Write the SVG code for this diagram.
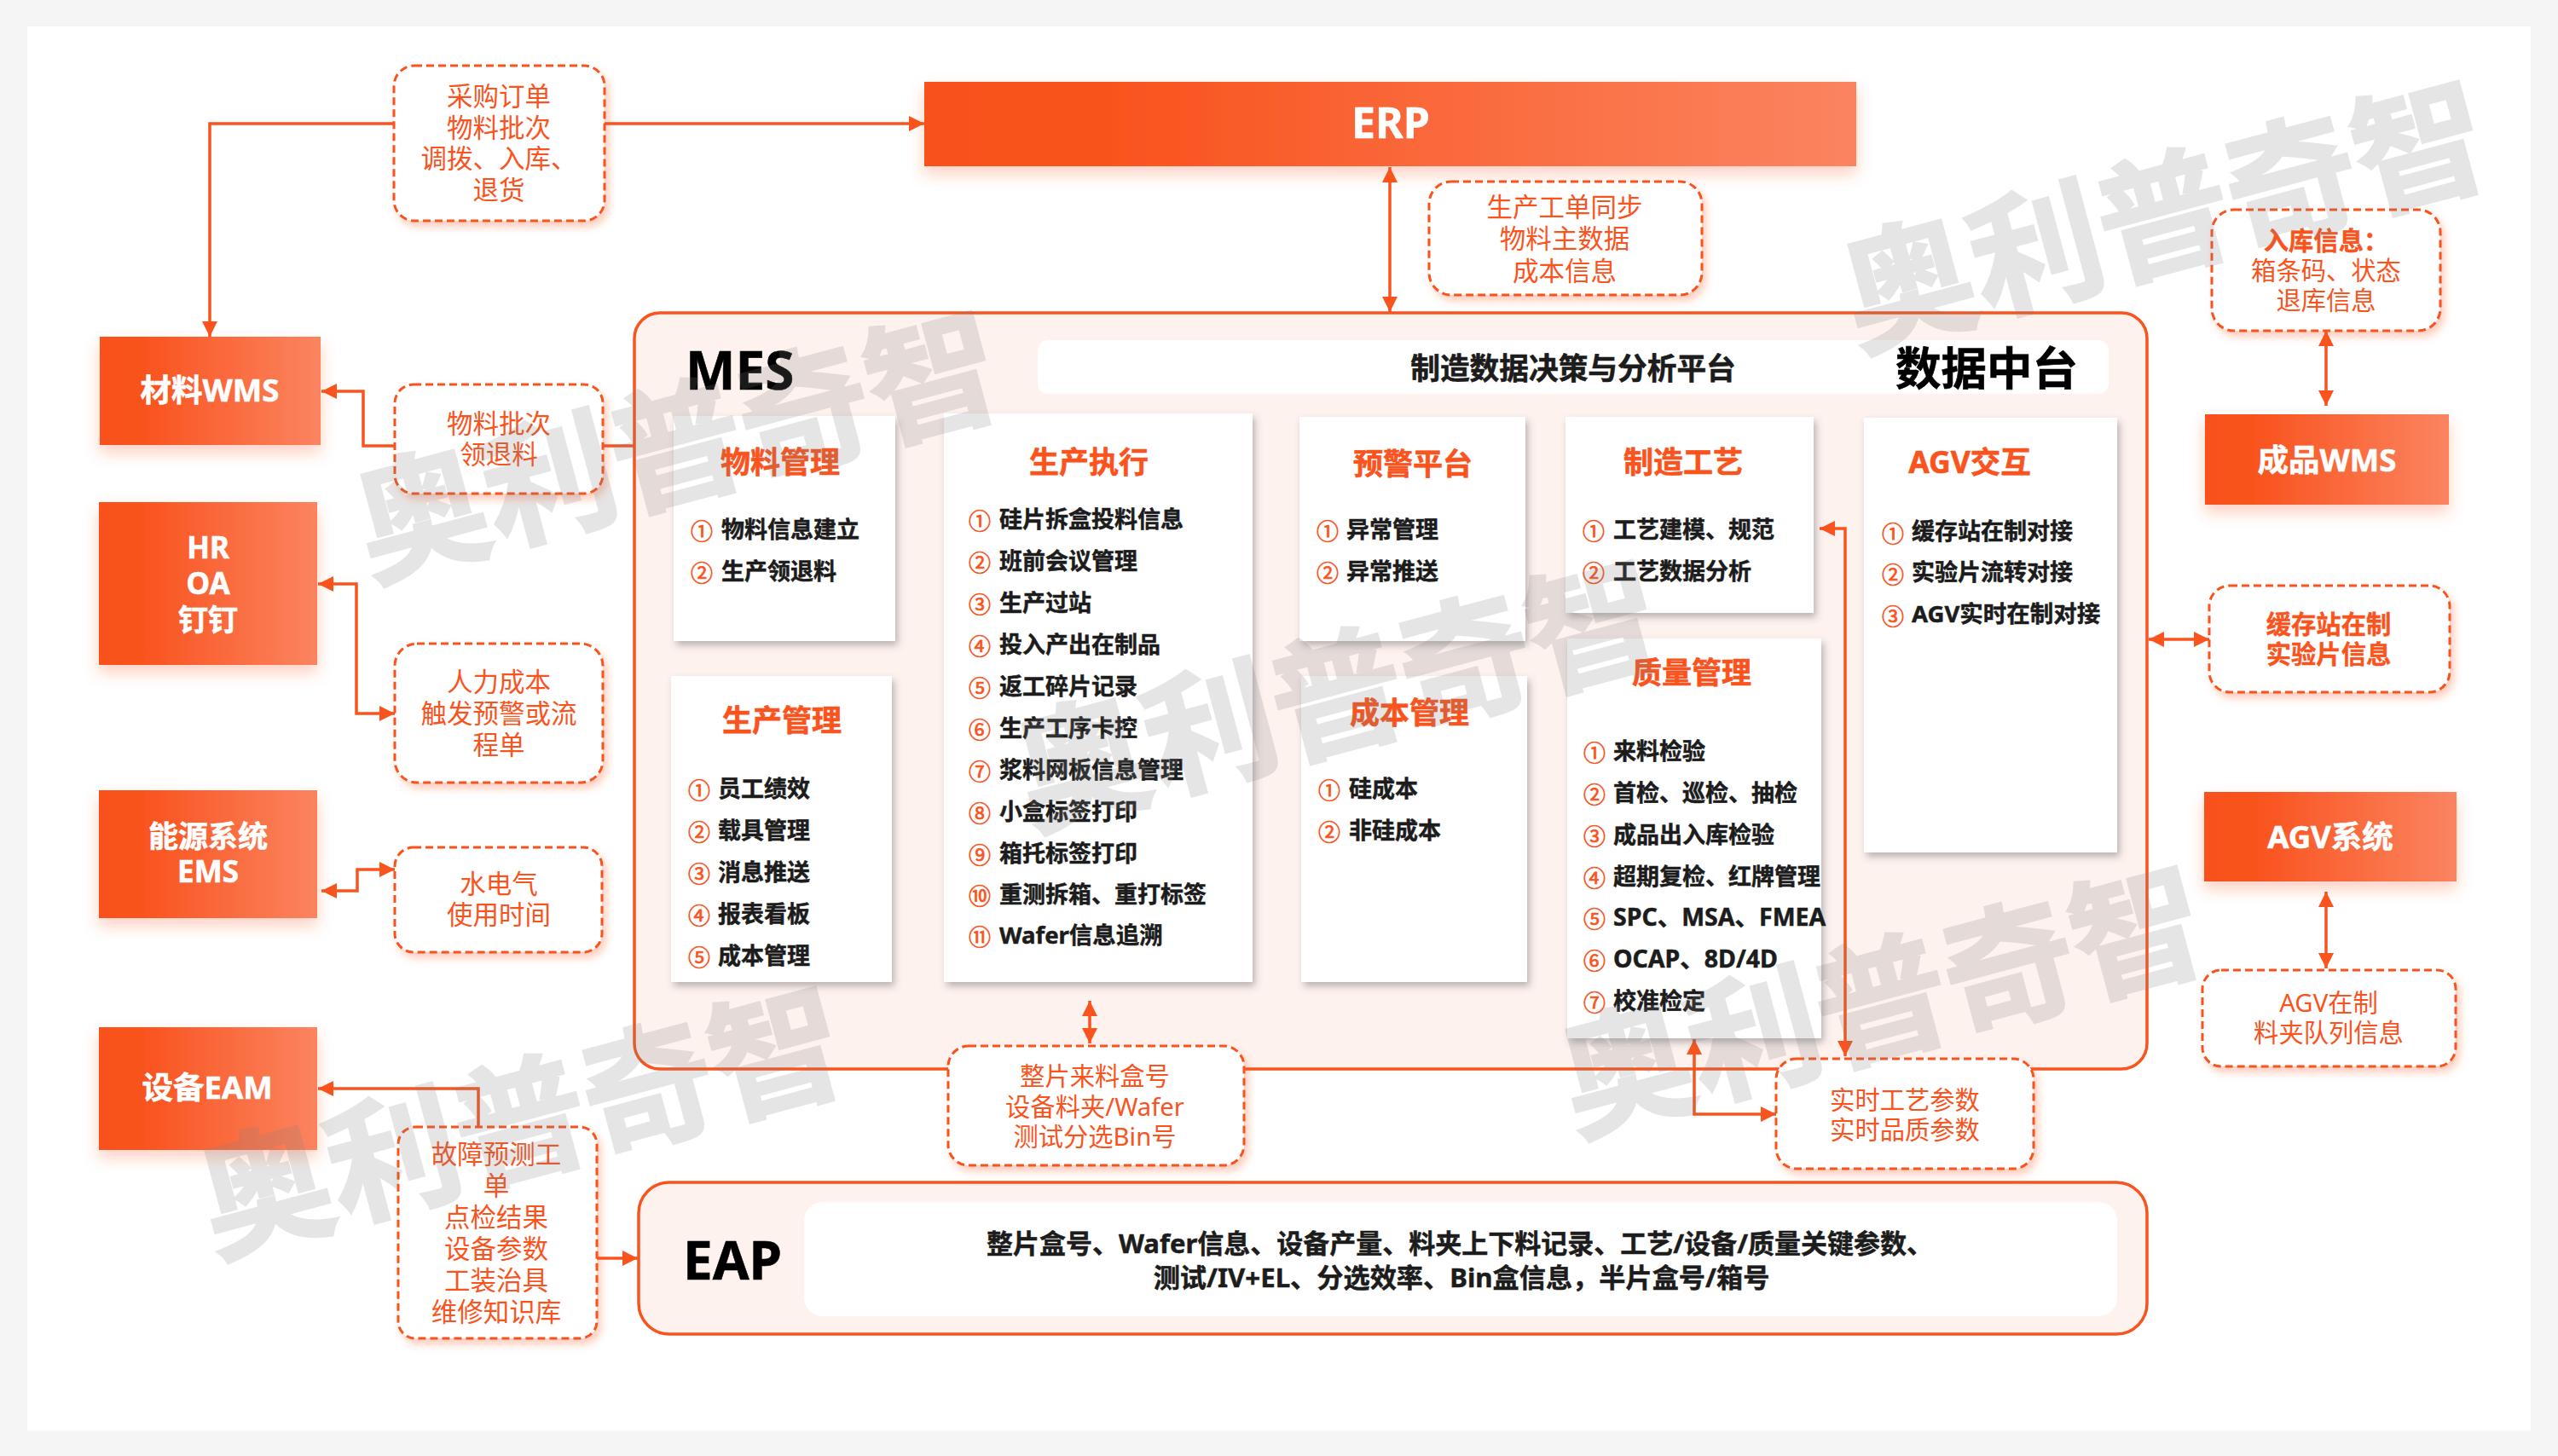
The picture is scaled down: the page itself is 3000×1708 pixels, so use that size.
<svg xmlns="http://www.w3.org/2000/svg" width="3000" height="1708" viewBox="0 0 3000 1708">
<style>
text{font-family:"Noto Sans","Noto Sans CJK SC",sans-serif;dominant-baseline:central}
.c{text-anchor:middle}
.sys{fill:url(#og);filter:url(#os)}
.st{fill:#fff;stroke:#fff;stroke-width:.6;font-weight:700;font-size:36.5px;text-anchor:middle}
.sm{font-size:35px}
.dash{fill:#fff;stroke:#f9531e;stroke-width:3;stroke-dasharray:9 5;filter:url(#ds)}
.lb{fill:#f9531e;font-size:30.5px;text-anchor:middle}
.ls{fill:#f9531e;font-size:29.3px;text-anchor:middle}
.lbb{fill:#f9531e;stroke:#f9531e;stroke-width:.4;font-size:29.3px;text-anchor:middle;font-weight:700}
.card{fill:#fff;filter:url(#cs)}
.ct{fill:#f9531e;stroke:#f9531e;stroke-width:.6;font-size:35px;font-weight:700;text-anchor:middle}
.it{fill:#1c1c1c;stroke:#1c1c1c;stroke-width:.5;font-size:27px;font-weight:700}
.itl{fill:#1c1c1c;stroke:#1c1c1c;stroke-width:.5;font-size:28.5px;font-weight:700}
.n{fill:#f9531e;stroke:#f9531e;stroke-width:.7;font-size:26px;text-anchor:middle}
.panel{fill:#fef2ef;stroke:#f9531e;stroke-width:3.5}
.bk{fill:#000;stroke:#000;stroke-width:.6;font-weight:700}
.line{fill:none;stroke:#f9531e;stroke-width:3.5}
.wm{fill:#808080;stroke:#808080;stroke-width:3;opacity:.2;font-size:155px;font-weight:700;text-anchor:middle;font-family:"Noto Sans CJK SC",sans-serif}
</style>
<defs>
<linearGradient id="og" x1="0" x2="1" y1="0" y2="0"><stop offset="0" stop-color="#f9511a"/><stop offset=".2" stop-color="#f9531e"/><stop offset="1" stop-color="#fb8460"/></linearGradient>
<filter id="os" x="-20%" y="-30%" width="140%" height="170%"><feDropShadow dx="0" dy="9" stdDeviation="9" flood-color="#f9531e" flood-opacity=".28"/></filter>
<filter id="ds" x="-15%" y="-15%" width="130%" height="135%"><feDropShadow dx="4" dy="6" stdDeviation="5" flood-color="#f9531e" flood-opacity=".3"/></filter>
<filter id="cs" x="-10%" y="-10%" width="125%" height="125%"><feDropShadow dx="3" dy="5" stdDeviation="4" flood-color="#555" flood-opacity=".4"/></filter>
<marker id="a" markerUnits="userSpaceOnUse" markerWidth="20" markerHeight="20" refX="18" refY="10" orient="auto-start-reverse"><path d="M0 1 L18 10 L0 19Z" fill="#f9531e"/></marker>
</defs>
<rect width="3000" height="1708" fill="#f5f5f5"/>
<rect x="32" y="31" width="2936" height="1647" fill="#fff"/>

<g id="mes-panel"><rect class="panel" x="744" y="367" width="1774" height="887" rx="30"/>
<rect x="1217" y="399" width="1256" height="63" rx="12" fill="#fff"/>
<text class="bk" x="804" y="433" font-size="62">MES</text>
<text class="bk c" x="1845" y="431" font-size="34.7" style="fill:#1c1c1c;stroke:#1c1c1c">制造数据决策与分析平台</text>
<text class="bk c" x="2330" y="431" font-size="53.5">数据中台</text></g>
<g id="eap-panel"><rect class="panel" x="749" y="1387" width="1769" height="178" rx="36"/>
<rect x="943" y="1410" width="1540" height="134" rx="22" fill="#fff"/>
<text class="bk" x="801" y="1477" font-size="62">EAP</text>
<text class="c" x="1712" y="1458" font-size="31" font-weight="700" fill="#1c1c1c" stroke="#1c1c1c" stroke-width=".5">整片盒号、Wafer信息、设备产量、料夹上下料记录、工艺/设备/质量关键参数、</text>
<text class="c" x="1714" y="1498" font-size="31.2" font-weight="700" fill="#1c1c1c" stroke="#1c1c1c" stroke-width=".5">测试/IV+EL、分选效率、Bin盒信息，半片盒号/箱号</text></g>

<g id="connectors">
<path class="line" d="M462 145H246V395" marker-end="url(#a)"/>
<path class="line" d="M709 145H1084" marker-end="url(#a)"/>
<path class="line" d="M1630 196V366" marker-start="url(#a)" marker-end="url(#a)"/>
<path class="line" d="M463 523H426V459H377" marker-end="url(#a)"/>
<path class="line" d="M707 523H744"/>
<path class="line" d="M373 685H418V837H463" marker-start="url(#a)" marker-end="url(#a)"/>
<path class="line" d="M377 1045H419V1020H463" marker-start="url(#a)" marker-end="url(#a)"/>
<path class="line" d="M561 1322V1277H373" marker-end="url(#a)"/>
<path class="line" d="M700 1476H748" marker-end="url(#a)"/>
<path class="line" d="M1278 1174V1224" marker-start="url(#a)" marker-end="url(#a)"/>
<path class="line" d="M2134 620H2164V1239" marker-start="url(#a)" marker-end="url(#a)"/>
<path class="line" d="M1987 1219V1307H2083" marker-start="url(#a)" marker-end="url(#a)"/>
<path class="line" d="M2728 388V476" marker-start="url(#a)" marker-end="url(#a)"/>
<path class="line" d="M2520 750H2591" marker-start="url(#a)" marker-end="url(#a)"/>
<path class="line" d="M2728 1046V1136" marker-start="url(#a)" marker-end="url(#a)"/>
</g>

<g id="erp"><rect class="sys" x="1084" y="96" width="1093" height="99"/><text class="st" x="1631" y="143" style="font-size:50px">ERP</text></g>
<g id="wms-material"><rect class="sys" x="117" y="395" width="259" height="127"/><text class="st" x="246" y="457">材料WMS</text></g>
<g id="hr"><rect class="sys" x="116" y="589" width="256" height="191"/><text class="st sm" x="244" y="641">HR</text><text class="st sm" x="244" y="683">OA</text><text class="st sm" x="244" y="726">钉钉</text></g>
<g id="ems"><rect class="sys" x="116" y="927" width="256" height="150"/><text class="st sm" x="244" y="980">能源系统</text><text class="st sm" x="244" y="1021">EMS</text></g>
<g id="eam"><rect class="sys" x="116" y="1205" width="256" height="144"/><text class="st" x="243" y="1275">设备EAM</text></g>
<g id="wms-product"><rect class="sys" x="2586" y="486" width="286" height="106"/><text class="st" x="2729" y="539">成品WMS</text></g>
<g id="agv-system"><rect class="sys" x="2585" y="929" width="296" height="105"/><text class="st" x="2733" y="981">AGV系统</text></g>

<g id="l-purchase"><rect class="dash" x="462" y="77" width="247" height="182" rx="24"/><text class="lb" x="585" y="112">采购订单</text><text class="lb" x="585" y="149">物料批次</text><text class="lb" x="585" y="185">调拨、入库、</text><text class="lb" x="585" y="222">退货</text></g>
<g id="l-batch"><rect class="dash" x="463" y="451" width="244" height="128" rx="22"/><text class="lb" x="585" y="496">物料批次</text><text class="lb" x="585" y="532">领退料</text></g>
<g id="l-hr"><rect class="dash" x="463" y="755" width="244" height="163" rx="26"/><text class="lb" x="585" y="799">人力成本</text><text class="lb" x="585" y="836">触发预警或流</text><text class="lb" x="585" y="873">程单</text></g>
<g id="l-energy"><rect class="dash" x="463" y="994" width="243" height="123" rx="22"/><text class="lb" x="585" y="1036">水电气</text><text class="lb" x="585" y="1072">使用时间</text></g>
<g id="l-eam"><rect class="dash" x="467" y="1322" width="233" height="248" rx="20"/><text class="lb" x="582" y="1353">故障预测工</text><text class="lb" x="582" y="1390">单</text><text class="lb" x="582" y="1427">点检结果</text><text class="lb" x="582" y="1464">设备参数</text><text class="lb" x="582" y="1501">工装治具</text><text class="lb" x="582" y="1538">维修知识库</text></g>
<g id="l-wafer"><rect class="dash" x="1112" y="1227" width="347" height="140" rx="24"/><text class="ls" x="1284" y="1262">整片来料盒号</text><text class="ls" x="1284" y="1298">设备料夹/Wafer</text><text class="ls" x="1284" y="1333">测试分选Bin号</text></g>
<g id="l-erp"><rect class="dash" x="1676" y="213" width="320" height="133" rx="26"/><text class="lb" x="1835" y="242">生产工单同步</text><text class="lb" x="1835" y="279">物料主数据</text><text class="lb" x="1835" y="317">成本信息</text></g>
<g id="l-realtime"><rect class="dash" x="2083" y="1242" width="302" height="129" rx="24"/><text class="ls" x="2234" y="1290">实时工艺参数</text><text class="ls" x="2234" y="1325">实时品质参数</text></g>
<g id="l-inbound"><rect class="dash" x="2594" y="246" width="268" height="142" rx="26"/><text class="lbb" x="2728" y="282">入库信息：</text><text class="ls" x="2728" y="317">箱条码、状态</text><text class="ls" x="2728" y="352">退库信息</text></g>
<g id="l-buffer"><rect class="dash" x="2591" y="687" width="282" height="125" rx="24"/><text class="lbb" x="2731" y="732">缓存站在制</text><text class="lbb" x="2731" y="767">实验片信息</text></g>
<g id="l-agv"><rect class="dash" x="2583" y="1138" width="297" height="113" rx="22"/><text class="ls" x="2731" y="1176">AGV在制</text><text class="ls" x="2731" y="1211">料夹队列信息</text></g>

<g id="c-material"><rect class="card" x="790" y="488" width="260" height="264"/><text class="ct" x="915" y="541">物料管理</text>
<text class="n" x="823" y="623">①</text><text class="it" x="846" y="620">物料信息建立</text><text class="n" x="823" y="672">②</text><text class="it" x="846" y="669">生产领退料</text></g>
<g id="c-prod"><rect class="card" x="787" y="793" width="259" height="359"/><text class="ct" x="917" y="844">生产管理</text>
<text class="n" x="820" y="927">①</text><text class="it" x="842" y="924">员工绩效</text><text class="n" x="820" y="976">②</text><text class="it" x="842" y="973">载具管理</text><text class="n" x="820" y="1025">③</text><text class="it" x="842" y="1022">消息推送</text><text class="n" x="820" y="1074">④</text><text class="it" x="842" y="1071">报表看板</text><text class="n" x="820" y="1123">⑤</text><text class="it" x="842" y="1120">成本管理</text></g>
<g id="c-exec"><rect class="card" x="1107" y="485" width="362" height="667"/><text class="ct" x="1277" y="541">生产执行</text>
<text class="n" x="1149" y="611">①</text><text class="it" x="1172" y="608">硅片拆盒投料信息</text>
<text class="n" x="1149" y="660">②</text><text class="it" x="1172" y="657">班前会议管理</text>
<text class="n" x="1149" y="709">③</text><text class="it" x="1172" y="706">生产过站</text>
<text class="n" x="1149" y="758">④</text><text class="it" x="1172" y="755">投入产出在制品</text>
<text class="n" x="1149" y="807">⑤</text><text class="it" x="1172" y="804">返工碎片记录</text>
<text class="n" x="1149" y="856">⑥</text><text class="it" x="1172" y="853">生产工序卡控</text>
<text class="n" x="1149" y="905">⑦</text><text class="it" x="1172" y="902">浆料网板信息管理</text>
<text class="n" x="1149" y="954">⑧</text><text class="it" x="1172" y="951">小盒标签打印</text>
<text class="n" x="1149" y="1003">⑨</text><text class="it" x="1172" y="1000">箱托标签打印</text>
<text class="n" x="1149" y="1051">⑩</text><text class="it" x="1172" y="1048">重测拆箱、重打标签</text>
<text class="n" x="1149" y="1099">⑪</text><text class="itl" x="1172" y="1096" style="font-size:27.5px">Wafer信息追溯</text></g>
<g id="c-alert"><rect class="card" x="1524" y="489" width="265" height="263"/><text class="ct" x="1657" y="543">预警平台</text>
<text class="n" x="1557" y="623">①</text><text class="it" x="1579" y="620">异常管理</text><text class="n" x="1557" y="672">②</text><text class="it" x="1579" y="669">异常推送</text></g>
<g id="c-cost"><rect class="card" x="1526" y="793" width="265" height="359"/><text class="ct" x="1653" y="835">成本管理</text>
<text class="n" x="1559" y="927">①</text><text class="it" x="1582" y="924">硅成本</text><text class="n" x="1559" y="976">②</text><text class="it" x="1582" y="973">非硅成本</text></g>
<g id="c-process"><rect class="card" x="1836" y="489" width="291" height="230"/><text class="ct" x="1974" y="541">制造工艺</text>
<text class="n" x="1869" y="623">①</text><text class="it" x="1892" y="620">工艺建模、规范</text><text class="n" x="1869" y="672">②</text><text class="it" x="1892" y="669">工艺数据分析</text></g>
<g id="c-quality"><rect class="card" x="1838" y="749" width="298" height="469"/><text class="ct" x="1984" y="788">质量管理</text>
<text class="n" x="1870" y="883">①</text><text class="it" x="1892" y="880">来料检验</text>
<text class="n" x="1870" y="932">②</text><text class="it" x="1892" y="929">首检、巡检、抽检</text>
<text class="n" x="1870" y="981">③</text><text class="it" x="1892" y="978">成品出入库检验</text>
<text class="n" x="1870" y="1030">④</text><text class="it" x="1892" y="1027">超期复检、红牌管理</text>
<text class="n" x="1870" y="1078">⑤</text><text class="itl" x="1892" y="1075">SPC、MSA、FMEA</text>
<text class="n" x="1870" y="1127">⑥</text><text class="itl" x="1892" y="1124">OCAP、8D/4D</text>
<text class="n" x="1870" y="1176">⑦</text><text class="it" x="1892" y="1173">校准检定</text></g>
<g id="c-agv"><rect class="card" x="2186" y="490" width="297" height="510"/><text class="ct" x="2310" y="541" style="font-size:35.5px">AGV交互</text>
<text class="n" x="2220" y="626">①</text><text class="it" x="2242" y="622">缓存站在制对接</text><text class="n" x="2220" y="674">②</text><text class="it" x="2242" y="670">实验片流转对接</text><text class="n" x="2220" y="723">③</text><text class="itl" x="2242" y="719" style="font-size:27.5px">AGV实时在制对接</text></g>

<g id="watermarks">
<text class="wm" x="2535" y="243" transform="rotate(-15 2535 243)">奥利普奇智</text>
<text class="wm" x="791" y="513" transform="rotate(-15 791 513)">奥利普奇智</text>
<text class="wm" x="1566" y="805" transform="rotate(-15 1566 805)">奥利普奇智</text>
<text class="wm" x="2204" y="1164" transform="rotate(-15 2204 1164)">奥利普奇智</text>
<text class="wm" x="608" y="1306" transform="rotate(-15 608 1306)">奥利普奇智</text>
</g>
</svg>
